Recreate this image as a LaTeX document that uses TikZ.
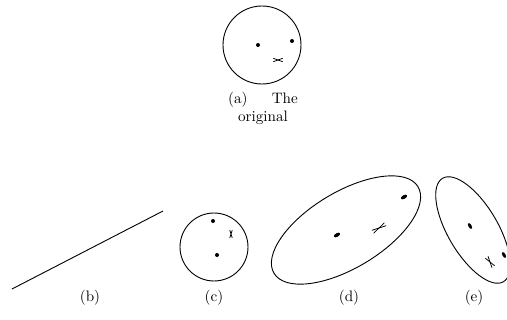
\documentclass[tikz,border=0pt]{standalone}
\usepackage{tikz}
\usetikzlibrary{calc}
\tikzset{
  outline/.style={line width=0.6pt, black},
  spot/.style={fill=black},
  xmark/.style={line width=0.5pt, black},
  caplabel/.style={inner sep=0pt, font=\normalsize},
}
% small flattened cross: centre, direction, half length, spread
\newcommand{\crossmk}[4]{%
  \draw[xmark] ($(#1)+(#2+#4:#3)$) -- ($(#1)+(#2+#4+180:#3)$);
  \draw[xmark] ($(#1)+(#2-#4:#3)$) -- ($(#1)+(#2-#4+180:#3)$);}

\begin{document}
\begin{tikzpicture}[x=0.66pt, y=-0.66pt]
\useasboundingbox (0,0) rectangle (507,320);
% (a) the original
\begin{scope}
  \node[draw, outline, circle, minimum size=78*0.66pt, inner sep=0pt] (orig) at (262,45) {};
  \fill[spot] (258,45) circle (2);
  \fill[spot] (292,41) circle (2);
  \coordinate (origx) at (278,60);
  \crossmk{origx}{0}{5}{20}
  \node[caplabel, align=center] (capa) at (263,108) {\makebox[46pt][s]{(a)\hfil The}\\original};
\end{scope}
% (b) collapsed to a segment
\begin{scope}
  \coordinate (segL) at (12,289);
  \coordinate (segR) at (163,211);
  \draw[outline] (segL) -- (segR);
  \node[caplabel] (capb) at (90,298) {(b)};
\end{scope}
% (c) rotated
\begin{scope}
  \node[draw, outline, circle, minimum size=68*0.66pt, inner sep=0pt] (rot) at (214,247) {};
  \fill[spot] (213,221) circle (2);
  \fill[spot] (217,255) circle (2);
  \coordinate (rotx) at (231,234);
  \crossmk{rotx}{90}{4}{18}
  \node[caplabel] (capc) at (214,298) {(c)};
\end{scope}
% (d) stretched
\begin{scope}
  \draw[outline, shift={(346,230)}, rotate=31] (0,0) ellipse (84 and 38);
  \fill[spot, shift={(337,235)}, rotate=31] (0,0) ellipse (3.4 and 1.8);
  \fill[spot, shift={(404,197)}, rotate=31] (0,0) ellipse (3.4 and 1.8);
  \coordinate (strx) at (379,228);
  \crossmk{strx}{-31}{7.5}{13}
  \node[caplabel] (capd) at (349,298) {(d)};
\end{scope}
% (e) stretched the other way
\begin{scope}
  \draw[outline, shift={(473,230)}, rotate=-59.5] (0,0) ellipse (60 and 25);
  \fill[spot, shift={(470,226)}, rotate=-59.5] (0,0) ellipse (3.2 and 1.6);
  \fill[spot, shift={(504,255)}, rotate=-59.5] (0,0) ellipse (3.2 and 1.6);
  \coordinate (othx) at (490,262);
  \crossmk{othx}{55}{6}{16}
  \node[caplabel] (cape) at (474,298) {(e)};
\end{scope}
\end{tikzpicture}
\end{document}
